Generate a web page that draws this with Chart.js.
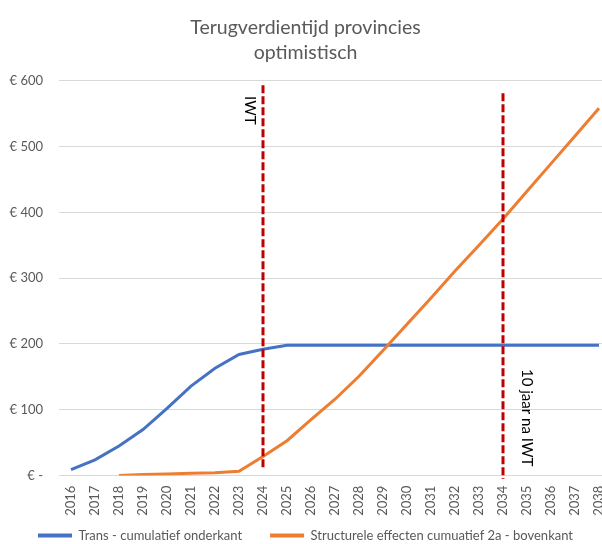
<!DOCTYPE html>
<html>
<head>
<meta charset="utf-8">
<script src="https://cdn.jsdelivr.net/npm/chart.js@4"></script>
<style>
    html, body { margin: 0; padding: 0; background: #fff; overflow: hidden; }
    #wrap { width: 602px; height: 544px; overflow: hidden; }
</style>
</head>
<body>
<div id="wrap"><canvas id="myChart" width="618" height="552"></canvas></div>
<script>

const years = ['2016', '2017', '2018', '2019', '2020', '2021', '2022', '2023', '2024', '2025', '2026', '2027',
    '2028', '2029', '2030', '2031', '2032', '2033', '2034', '2035', '2036', '2037', '2038'];

const transCumulatief = [9, 24, 45, 70, 102, 136, 163, 184, 192, 198, 198, 198,
    198, 198, 198, 198, 198, 198, 198, 198, 198, 198, 198];

const structureleEffecten = [null, null, 0, 1.5, 2.5, 3.5, 4.5, 6.5, 29, 53, 85, 116,
    151, 190, 230, 270, 311, 350, 390, 432, 474, 516, 558];

// verticale markeringen
const markerYears = ['2024', '2034'];
const markerTop = [593, 581];
const markerBottom = [11, -5];
const markerText = ['IWT', '10 jaar na IWT'];
const markerTextValue = [555, 88];

const textColor = '#595959';
const fontFamily = 'Lato';

const markerDatasets = markerYears.map((yr, i) => ({
    label: 'marker' + i,
    data: [{ x: yr, y: markerTop[i] }, { x: yr, y: markerBottom[i] }],
    borderColor: '#C00000',
    backgroundColor: '#C00000',
    borderWidth: 3,
    borderDash: [8, 3],
    pointRadius: 0,
    clip: false,
    order: 0
}));

const markerLabels = {
    id: 'markerLabels',
    afterDatasetsDraw(chart) {
        const ctx = chart.ctx;
        const xs = chart.scales.x;
        const ys = chart.scales.y;
        const offsets = [-13.5, 23.5];
        ctx.save();
        ctx.fillStyle = '#000';
        ctx.font = '15px ' + fontFamily;
        ctx.textAlign = 'center';
        ctx.textBaseline = 'middle';
        markerYears.forEach((yr, i) => {
            const x = xs.getPixelForValue(years.indexOf(yr)) + offsets[i];
            const y = ys.getPixelForValue(markerTextValue[i]);
            ctx.save();
            ctx.translate(x, y);
            ctx.rotate(Math.PI / 2);
            ctx.fillText(markerText[i], 0, 0);
            ctx.restore();
        });
        ctx.restore();
    }
};

const config = {
    type: 'line',
    data: {
        labels: years,
        datasets: [{
            // extra spaties geven de ruimte tussen de legenda-items
            label: 'Trans - cumulatief onderkant      ',
            data: transCumulatief,
            borderColor: '#4472C4',
            backgroundColor: '#4472C4',
            borderWidth: 3,
            pointRadius: 0,
            order: 2
        },
        {
            label: 'Structurele effecten cumuatief 2a - bovenkant',
            data: structureleEffecten,
            borderColor: '#ED7D31',
            backgroundColor: '#ED7D31',
            borderWidth: 3,
            pointRadius: 0,
            order: 1
        }, ...markerDatasets]
    },
    options: {
        responsive: false,
        animation: false,
        devicePixelRatio: 1,
        layout: { padding: { left: 0, right: 7, top: 0, bottom: 0 } },
        scales: {
            x: {
                offset: true,
                grid: { display: false, drawTicks: false },
                border: { color: '#D9D9D9' },
                ticks: {
                    autoSkip: false,
                    minRotation: 90,
                    maxRotation: 90,
                    padding: 10,
                    color: textColor,
                    font: { family: fontFamily, size: 13 }
                },
                afterFit: (scale) => {
                    scale.height = 45.4;
                    scale.paddingLeft = 0;
                    scale.paddingRight = 0;
                }
            },
            y: {
                min: 0,
                max: 600,
                border: { display: false },
                grid: { color: '#D9D9D9', drawTicks: false },
                ticks: {
                    stepSize: 100,
                    padding: 16,
                    color: textColor,
                    font: { family: fontFamily, size: 13 },
                    callback: (v) => v === 0 ? '€ -' : '€ ' + v
                },
                afterFit: (scale) => { scale.width = 59; }
            }
        },
        plugins: {
            title: {
                display: true,
                text: ['Terugverdientijd provincies', 'optimistisch'],
                color: textColor,
                font: { family: fontFamily, size: 19.5, weight: 'normal', lineHeight: 1.3 },
                padding: { top: 15, bottom: 15 }
            },
            legend: {
                position: 'bottom',
                labels: {
                    boxWidth: 34,
                    boxHeight: 4,
                    padding: 8,
                    color: textColor,
                    font: { family: fontFamily, size: 13 },
                    filter: (item) => !item.text.startsWith('marker'),
                    sort: (a, b) => a.datasetIndex - b.datasetIndex,
                    generateLabels: (chart) => {
                        return Chart.defaults.plugins.legend.labels.generateLabels(chart).map((l) => {
                            l.lineWidth = 0;
                            return l;
                        });
                    }
                }
            },
            tooltip: { enabled: false }
        }
    },
    plugins: [markerLabels]
};

const myChart = new Chart(document.getElementById('myChart'), config);

</script>
</body>
</html>
